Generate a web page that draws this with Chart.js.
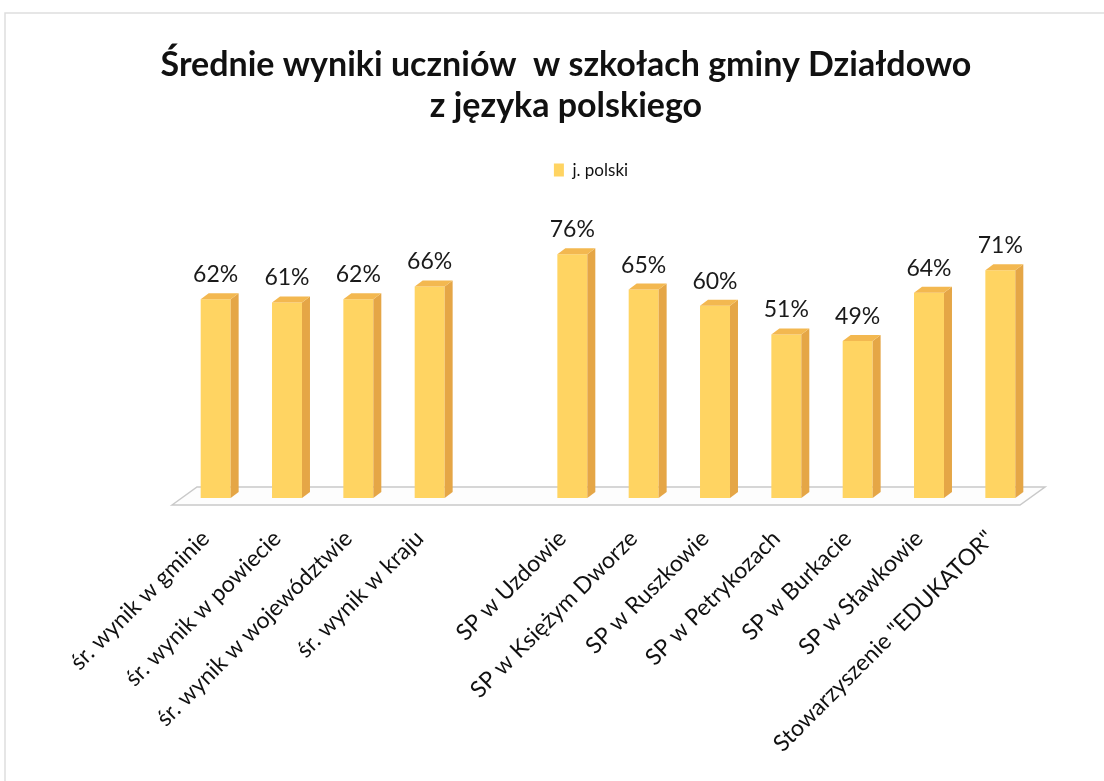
<!DOCTYPE html>
<html>
<head>
<meta charset="utf-8">
<script src="https://cdn.jsdelivr.net/npm/chart.js@4"></script>
<style>
  html, body { margin: 0; padding: 0; background: #fff; }
  #wrap { width: 1104px; height: 781px; }
</style>
</head>
<body>
<div id="wrap"><canvas id="myChart" width="1104" height="781"></canvas></div>
<script>
// chart data
var categories = [
  'śr. wynik w gminie', 'śr. wynik w powiecie', 'śr. wynik w województwie', 'śr. wynik w kraju',
  '',
  'SP w Uzdowie', 'SP w Księżym Dworze', 'SP w Ruszkowie', 'SP w Petrykozach',
  'SP w Burkacie', 'SP w Sławkowie', 'Stowarzyszenie "EDUKATOR"'
];
var polski = [62, 61, 62, 66, null, 76, 65, 60, 51, 49, 64, 71];
var seriesName = 'j. polski';
var titleLines = ['Średnie wyniki uczniów  w szkołach gminy Działdowo', 'z języka polskiego'];

var FONT = 'Lato, "Open Sans", sans-serif';
var FRONT = '#FFD462', SIDE = '#E5A646', TOP = '#F3B850';
var DX = 8, DY = -6;

// faint frame of the chart box + floor under the bars
var floorPlugin = {
  id: 'floor',
  beforeDraw: function(chart) {
    var ctx = chart.ctx;
    ctx.save();
    ctx.strokeStyle = '#dedede';
    ctx.lineWidth = 1.5;
    ctx.beginPath();
    ctx.moveTo(5, chart.height);
    ctx.lineTo(5, 13);
    ctx.lineTo(chart.width, 13);
    ctx.stroke();
    ctx.restore();
  },
  afterLayout: function(chart) {
    // legend sits a bit right of the title in the original
    chart.legend.left += 25;
    chart.legend.right += 25;
  },
  beforeDatasetsDraw: function(chart) {
    var ctx = chart.ctx, a = chart.chartArea;
    var base = chart.scales.y.getPixelForValue(0);
    ctx.save();
    ctx.beginPath();
    ctx.moveTo(a.left - 8, base + 7);
    ctx.lineTo(a.left + 17, base - 11);
    ctx.lineTo(a.right + 9, base - 11);
    ctx.lineTo(a.right - 16, base + 7);
    ctx.closePath();
    ctx.fillStyle = '#fdfdfd';
    ctx.fill();
    ctx.strokeStyle = '#c9c9c9';
    ctx.lineWidth = 1.5;
    ctx.stroke();
    ctx.restore();
  }
};

// side and top faces + value labels
var bar3dPlugin = {
  id: 'bar3d',
  afterDatasetsDraw: function(chart) {
    var ctx = chart.ctx;
    var meta = chart.getDatasetMeta(0);
    ctx.save();
    meta.data.forEach(function(bar, i) {
      var v = polski[i];
      if (v === null) return;
      var p = bar.getProps(['x', 'y', 'base', 'width'], true);
      var l = p.x - p.width / 2, r = p.x + p.width / 2;
      // side
      ctx.beginPath();
      ctx.moveTo(r, p.y);
      ctx.lineTo(r + DX, p.y + DY);
      ctx.lineTo(r + DX, p.base + DY);
      ctx.lineTo(r, p.base);
      ctx.closePath();
      ctx.fillStyle = SIDE;
      ctx.fill();
      // top
      ctx.beginPath();
      ctx.moveTo(l, p.y);
      ctx.lineTo(l + DX, p.y + DY);
      ctx.lineTo(r + DX, p.y + DY);
      ctx.lineTo(r, p.y);
      ctx.closePath();
      ctx.fillStyle = TOP;
      ctx.fill();
      // label
      ctx.fillStyle = '#1a1a1a';
      ctx.font = '23px ' + FONT;
      ctx.textAlign = 'center';
      ctx.textBaseline = 'alphabetic';
      ctx.fillText(v + '%', p.x, p.y - 17);
    });
    ctx.restore();
  }
};

var ctx = document.getElementById('myChart').getContext('2d');
var chart = new Chart(ctx, {
    type: 'bar',
    data: {
        labels: categories,
        datasets: [{
            label: seriesName,
            data: polski,
            backgroundColor: FRONT,
            borderWidth: 0,
            categoryPercentage: 1,
            barPercentage: 0.42
        }]
    },
    options: {
        responsive: false,
        animation: false,
        layout: { padding: { left: 96, right: 68, top: 0, bottom: 0 } },
        plugins: {
            title: {
                display: true,
                text: titleLines,
                color: '#111',
                font: { family: FONT, size: 34, weight: 'bold' },
                lineHeight: 1.18,
                padding: { top: 45, bottom: 25 }
            },
            legend: {
                display: true,
                labels: {
                    color: '#111',
                    font: { family: FONT, size: 17 },
                    boxWidth: 10,
                    boxHeight: 13,
                    padding: 10
                }
            },
            tooltip: { enabled: false }
        },
        scales: {
            x: {
                grid: { display: false, drawTicks: false },
                border: { display: false },
                ticks: {
                    color: '#111',
                    font: { family: FONT, size: 23 },
                    maxRotation: 45,
                    minRotation: 45,
                    autoSkip: false,
                    padding: 27,
                    labelOffset: -10
                },
                afterFit: function(axis) { axis.height = 283; }
            },
            y: {
                min: 0,
                max: 96.5,
                grid: { display: false, drawTicks: false },
                border: { display: false },
                ticks: { display: false },
                afterFit: function(axis) { axis.width = 84; }
            }
        }
    },
    plugins: [floorPlugin, bar3dPlugin]
});
</script>
</body>
</html>
